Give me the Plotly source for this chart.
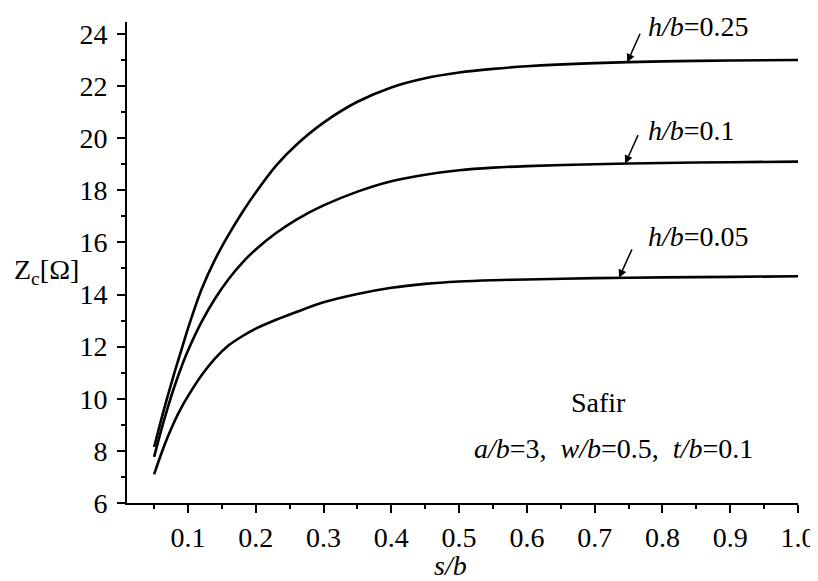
import plotly.graph_objects as go

# s/b values
s_b = [0.05, 0.06, 0.07, 0.08, 0.09, 0.10, 0.12, 0.14, 0.16, 0.18, 0.20, 0.23, 0.26,
       0.30, 0.35, 0.40, 0.45, 0.50, 0.55, 0.60, 0.70, 0.80, 0.90, 1.00]
# Zc for h/b = 0.25
zc_025 = [8.15, 9.15, 10.1, 11.0, 11.85, 12.7, 14.2, 15.35, 16.3, 17.15, 17.92, 18.95, 19.75,
          20.6, 21.4, 21.95, 22.3, 22.52, 22.66, 22.76, 22.88, 22.95, 22.98, 23.0]
# Zc for h/b = 0.1
zc_010 = [7.77, 8.75, 9.65, 10.47, 11.2, 11.85, 12.95, 13.85, 14.6, 15.22, 15.73, 16.36, 16.88,
          17.42, 17.95, 18.35, 18.6, 18.77, 18.87, 18.93, 19.0, 19.05, 19.08, 19.1]
# Zc for h/b = 0.05
zc_005 = [7.1, 7.85, 8.53, 9.13, 9.65, 10.1, 10.9, 11.55, 12.05, 12.4, 12.69, 13.03, 13.33,
          13.7, 14.02, 14.26, 14.41, 14.5, 14.55, 14.58, 14.63, 14.66, 14.68, 14.7]

series = [("h/b=0.25", zc_025), ("h/b=0.1", zc_010), ("h/b=0.05", zc_005)]
labels = ["<i>h/b</i>=0.25", "<i>h/b</i>=0.1", "<i>h/b</i>=0.05"]
arrow_x = [0.748, 0.745, 0.736]

x_ticks = [0.1, 0.2, 0.3, 0.4, 0.5, 0.6, 0.7, 0.8, 0.9, 1.0]
y_ticks = [6, 8, 10, 12, 14, 16, 18, 20, 22, 24]

FONT = "Liberation Serif"
FS = 28

# page body has an 8px margin: compensate so the plot sits where the reference has it
OFF = 8
W, H = 818 - OFF, 581 - OFF
L, R, T, B = 127 - OFF, 20, 22 - OFF, 78
pw, ph = W - L - R, H - T - B

def px_x(p):
    return (p - OFF - L) / pw

def px_y(p):
    return (H - B - (p - OFF)) / ph

fig = go.Figure()
for name, ys in series:
    fig.add_trace(go.Scatter(x=s_b, y=ys, mode="lines", name=name,
                             line=dict(color="black", width=2.6, shape="spline", smoothing=0.8),
                             showlegend=False, hoverinfo="skip"))

def interp(xs, ys, x):
    for i in range(len(xs) - 1):
        if xs[i] <= x <= xs[i + 1]:
            t = (x - xs[i]) / (xs[i + 1] - xs[i])
            return ys[i] + t * (ys[i + 1] - ys[i])
    return ys[-1]

tfont = dict(family=FONT, size=FS, color="black")
annotations = []
text_y = [24.27, 20.31, 16.21]
for (name, ys), lab, ax_, ty in zip(series, labels, arrow_x, text_y):
    yv = interp(s_b, ys, ax_)
    annotations.append(dict(x=ax_, y=yv, xref="x", yref="y", text=" ", showarrow=True,
                            ax=14, ay=-31, arrowhead=2, arrowsize=1.1, arrowwidth=1.5,
                            arrowcolor="black", standoff=0, font=dict(size=2)))
    annotations.append(dict(x=0.776, y=ty, xref="x", yref="y", text=lab, showarrow=False,
                            xanchor="left", yanchor="middle", font=tfont))

annotations.append(dict(x=0.705, y=9.84, xref="x", yref="y", text="Safir", showarrow=False,
                        xanchor="center", yanchor="middle", font=tfont))
annotations.append(dict(x=0.728, y=8.11, xref="x", yref="y",
                        text="<i>a/b</i>=3,  <i>w/b</i>=0.5,  <i>t/b</i>=0.1", showarrow=False,
                        xanchor="center", yanchor="middle", font=tfont))
# y-axis title
annotations.append(dict(x=px_x(81), y=px_y(271), xref="paper", yref="paper",
                        text="Z<sub>c</sub>[Ω]", showarrow=False,
                        xanchor="right", yanchor="middle", font=tfont))
# x-axis title
annotations.append(dict(x=px_x(450), y=px_y(565), xref="paper", yref="paper",
                        text="<i>s/b</i>", showarrow=False,
                        xanchor="center", yanchor="middle", font=tfont))

fig.update_layout(
    width=W, height=H,
    margin=dict(l=L, r=R, t=T, b=B, pad=0),
    paper_bgcolor="white", plot_bgcolor="white",
    font=tfont,
    annotations=annotations,
    xaxis=dict(range=[0.01, 1.0], tickvals=x_ticks, ticktext=[f"{v:.1f}" for v in x_ticks],
               showgrid=False, zeroline=False, showline=True, linecolor="black", linewidth=2,
               ticks="outside", ticklen=8, tickwidth=2, tickcolor="black",
               tickfont=tfont, automargin=False,
               minor=dict(tickvals=[0.05, 0.15, 0.25, 0.35, 0.45, 0.55, 0.65, 0.75, 0.85, 0.95],
                          ticks="outside", ticklen=4, tickwidth=2, tickcolor="black",
                          showgrid=False),
               fixedrange=True),
    yaxis=dict(range=[6, 24.46], tickvals=y_ticks, ticktext=[str(v) for v in y_ticks],
               showgrid=False, zeroline=False, showline=True, linecolor="black", linewidth=2,
               ticks="outside", ticklen=8, tickwidth=2, tickcolor="black",
               ticklabelstandoff=4, automargin=False,
               tickfont=tfont,
               minor=dict(tickvals=[7, 9, 11, 13, 15, 17, 19, 21, 23],
                          ticks="outside", ticklen=4, tickwidth=2, tickcolor="black",
                          showgrid=False),
               fixedrange=True),
)

fig.write_html("out.html")
